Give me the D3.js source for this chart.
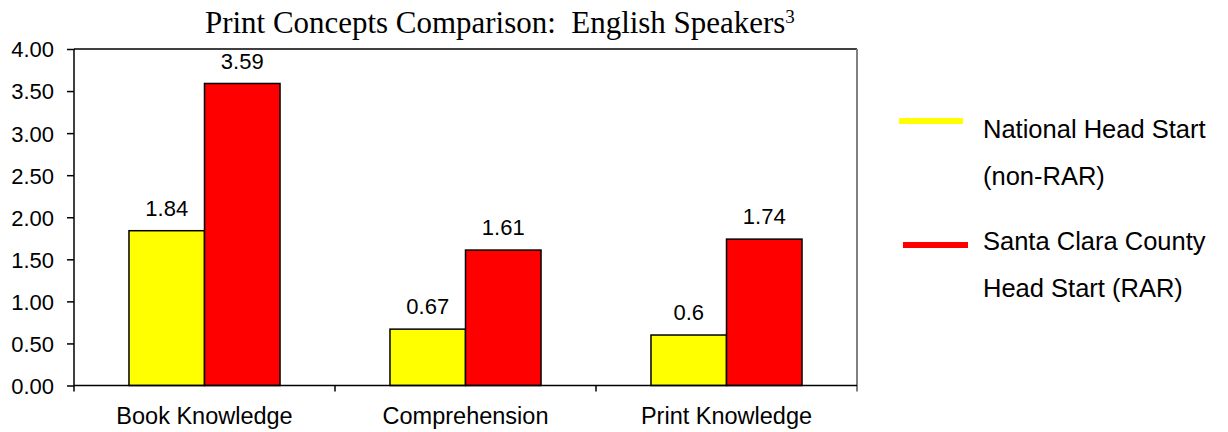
<!DOCTYPE html>
<html>
<head>
<meta charset="utf-8">
<script src="https://cdn.jsdelivr.net/npm/d3@7"></script>
<style>
  body { margin: 0; background: #fff; }
  text { font-family: "Liberation Sans", Arial, sans-serif; fill: #000; }
</style>
</head>
<body>
<div class="chart"></div>
<script>
var categories = ["Book Knowledge", "Comprehension", "Print Knowledge"];
var seriesNames = ["National Head Start (non-RAR)", "Santa Clara County Head Start (RAR)"];
var nationalValues = [1.84, 0.67, 0.6];
var santaClaraValues = [3.59, 1.61, 1.74];
var valueLabels = [["1.84", "0.67", "0.6"], ["3.59", "1.61", "1.74"]];
var yTicks = [0, 0.5, 1, 1.5, 2, 2.5, 3, 3.5, 4];
var legendLines = [["National Head Start", "(non-RAR)"], ["Santa Clara County", "Head Start (RAR)"]];
var colors = ["#ffff00", "#ff0000"];

var svgWidth = 1228;
var svgHeight = 432;
var margin = { top: 49, right: 371, bottom: 46.5, left: 74 };
var width = svgWidth - margin.left - margin.right;
var height = svgHeight - margin.top - margin.bottom;

var svg = d3.select(".chart")
  .append("svg")
  .attr("width", svgWidth)
  .attr("height", svgHeight);

var chartGroup = svg.append("g")
  .attr("transform", `translate(${margin.left}, ${margin.top})`);

var data = categories.map(function(c, i) {
  return { category: c, values: [nationalValues[i], santaClaraValues[i]], labels: [valueLabels[0][i], valueLabels[1][i]] };
});

// scales
var x0 = d3.scaleBand().domain(categories).range([0, width]).padding(0);
var x1 = d3.scaleBand().domain([0, 1]).range([0, x0.bandwidth()])
  .paddingInner(0).paddingOuter(0.728);
var y = d3.scaleLinear().domain([0, 4]).range([height, 0]);

// plot frame: top black, right grey
chartGroup.append("line")
  .attr("x1", 0).attr("x2", width).attr("y1", 0).attr("y2", 0)
  .attr("stroke", "#000").attr("stroke-width", 1.5);
chartGroup.append("line")
  .attr("x1", width).attr("x2", width).attr("y1", 0).attr("y2", height + 6)
  .attr("stroke", "#808080").attr("stroke-width", 2);

// bars
var groups = chartGroup.selectAll(".grp")
  .data(data)
  .enter()
  .append("g")
  .attr("transform", d => `translate(${x0(d.category)}, 0)`);

groups.selectAll("rect")
  .data(d => d.values.map((v, i) => ({ v: v, i: i, label: d.labels[i] })))
  .enter()
  .append("rect")
  .attr("x", d => x1(d.i))
  .attr("y", d => y(d.v))
  .attr("width", x1.bandwidth())
  .attr("height", d => height - y(d.v))
  .attr("fill", d => colors[d.i])
  .attr("stroke", "#000")
  .attr("stroke-width", 1.5);

groups.selectAll(".val")
  .data(d => d.values.map((v, i) => ({ v: v, i: i, label: d.labels[i] })))
  .enter()
  .append("text")
  .attr("x", d => x1(d.i) + x1.bandwidth() / 2)
  .attr("y", d => y(d.v) - 15)
  .attr("text-anchor", "middle")
  .style("font-size", "22px")
  .text(d => d.label);

// y axis
var leftAxis = d3.axisLeft(y).tickValues(yTicks).tickFormat(d3.format(".2f")).tickSize(7).tickPadding(13);
var yAxisG = chartGroup.append("g").call(leftAxis);
yAxisG.select(".domain").attr("stroke", "#000").attr("stroke-width", 1.5).attr("d", `M0,0V${height}`);
yAxisG.selectAll(".tick line").attr("stroke", "#000").attr("stroke-width", 1.5);
yAxisG.selectAll(".tick text").style("font-size", "22px").attr("dy", "0.36em").style("font-family", "Liberation Sans, Arial, sans-serif");

// x axis, ticks at category boundaries
var bottomAxis = d3.axisBottom(x0).tickSize(0).tickPadding(22);
var xAxisG = chartGroup.append("g")
  .attr("transform", `translate(0, ${height})`)
  .call(bottomAxis);
xAxisG.select(".domain").attr("stroke", "#000").attr("stroke-width", 1.5).attr("d", `M0,0H${width}`);
xAxisG.selectAll(".tick text").style("font-size", "23.5px").style("font-family", "Liberation Sans, Arial, sans-serif");
xAxisG.selectAll(".sep")
  .data(categories.slice(1))
  .enter()
  .append("line")
  .attr("x1", d => x0(d)).attr("x2", d => x0(d))
  .attr("y1", 0).attr("y2", 6)
  .attr("stroke", "#000").attr("stroke-width", 1.5);
xAxisG.append("line")
  .attr("x1", 0).attr("x2", 0).attr("y1", 0).attr("y2", 6)
  .attr("stroke", "#000").attr("stroke-width", 1.5);

// title
var title = svg.append("text")
  .attr("x", 205)
  .attr("y", 33)
  .style("font-family", "'Liberation Serif', 'DejaVu Serif', serif")
  .style("font-size", "26px");
title.append("tspan").text("Print Concepts Comparison:\u00a0\u00a0English Speakers");
title.append("tspan").attr("dy", -10).style("font-size", "16px").text("3");
var tw = title.node().getBBox().width;
title.style("font-size", (26 * 590 / tw) + "px");
title.select("tspan:last-child").style("font-size", (16 * 590 / tw) + "px");

// legend
var legendY = [121, 245];
var legend = svg.selectAll(".legend")
  .data(seriesNames)
  .enter()
  .append("g")
  .attr("class", "legend");

legend.append("line")
  .attr("x1", (d, i) => i === 0 ? 899 : 903)
  .attr("x2", (d, i) => i === 0 ? 963 : 968)
  .attr("y1", (d, i) => legendY[i])
  .attr("y2", (d, i) => legendY[i])
  .attr("stroke", (d, i) => colors[i])
  .attr("stroke-width", 6);

legend.each(function(d, i) {
  var g = d3.select(this);
  legendLines[i].forEach(function(t, j) {
    g.append("text")
      .attr("x", 983)
      .attr("y", (i === 0 ? 138 : 250) + j * 47)
      .style("font-size", "25.5px")
      .text(t);
  });
});
</script>
</body>
</html>
